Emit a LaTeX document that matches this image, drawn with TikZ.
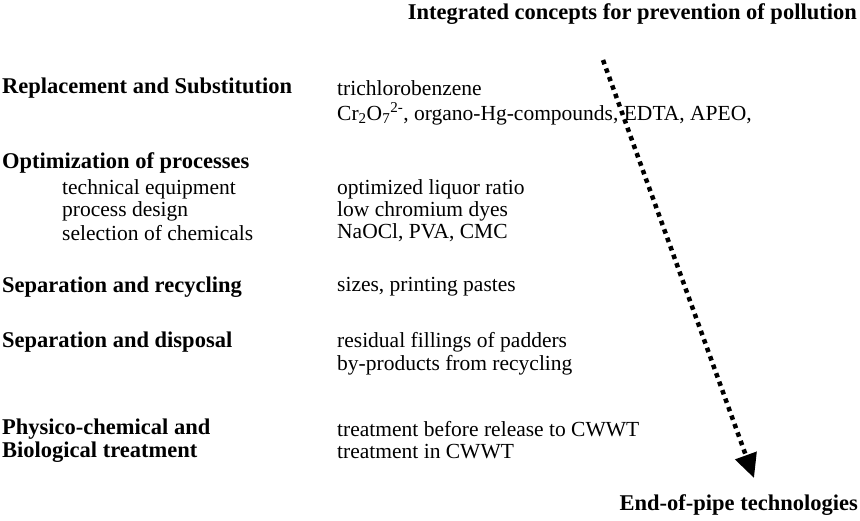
\documentclass[tikz,border=0pt]{standalone}
\usepackage{fontspec}
\setmainfont{Liberation Serif}
\usetikzlibrary{arrows.meta}
\tikzset{
  txt/.style={anchor=west, inner sep=0pt, font=\fontsize{21.5}{23}\selectfont},
  head/.style={txt, font=\fontsize{22.5}{23}\selectfont\bfseries}
}
\begin{document}
\begin{tikzpicture}[x=1pt, y=-1pt]
	\useasboundingbox (0,0) rectangle (860,521);

	\node[head, anchor=east] (top) at (857,14)  {Integrated concepts for prevention of pollution};
	\node[head, anchor=east] (end) at (858,505) {End-of-pipe technologies};

	\node[head] (repl) at (2,88)  {Replacement and Substitution};
	\node[head] (opt)  at (2,163) {Optimization of processes};
	\node[txt]  (o1)   at (62,189) {technical equipment};
	\node[txt]  (o2)   at (62,211) {process design};
	\node[txt]  (o3)   at (62,233) {selection of chemicals};
	\node[head] (rec)  at (2,287) {Separation and recycling};
	\node[head] (disp) at (2,342) {Separation and disposal};
	\node[head] (phys) at (2,429) {Physico-chemical and};
	\node[head] (bio)  at (2,452) {Biological treatment};

	\node[txt] (r1) at (337,88)  {trichlorobenzene};
	\node[txt] (r2) at (337,114) {Cr\textsubscript{2}O\textsubscript{7}\textsuperscript{2-}, organo-Hg-compounds, EDTA, APEO,};
	\node[txt] (p1) at (337,189) {optimized liquor ratio};
	\node[txt] (p2) at (337,211) {low chromium dyes};
	\node[txt] (p3) at (337,233) {NaOCl, PVA, CMC};
	\node[txt] (s1) at (337,287) {sizes, printing pastes};
	\node[txt] (d1) at (337,342) {residual fillings of padders};
	\node[txt] (d2) at (337,365) {by-products from recycling};
	\node[txt] (t1) at (337,429) {treatment before release to CWWT};
	\node[txt] (t2) at (337,452) {treatment in CWWT};

	\coordinate (from) at (603,60);
	\coordinate (to)   at (754,478);
	\draw[line width=4.5pt, dash pattern=on 4.5pt off 4.5pt, -{Triangle[length=24pt, width=22pt]}] (from) -- (to);
\end{tikzpicture}
\end{document}
